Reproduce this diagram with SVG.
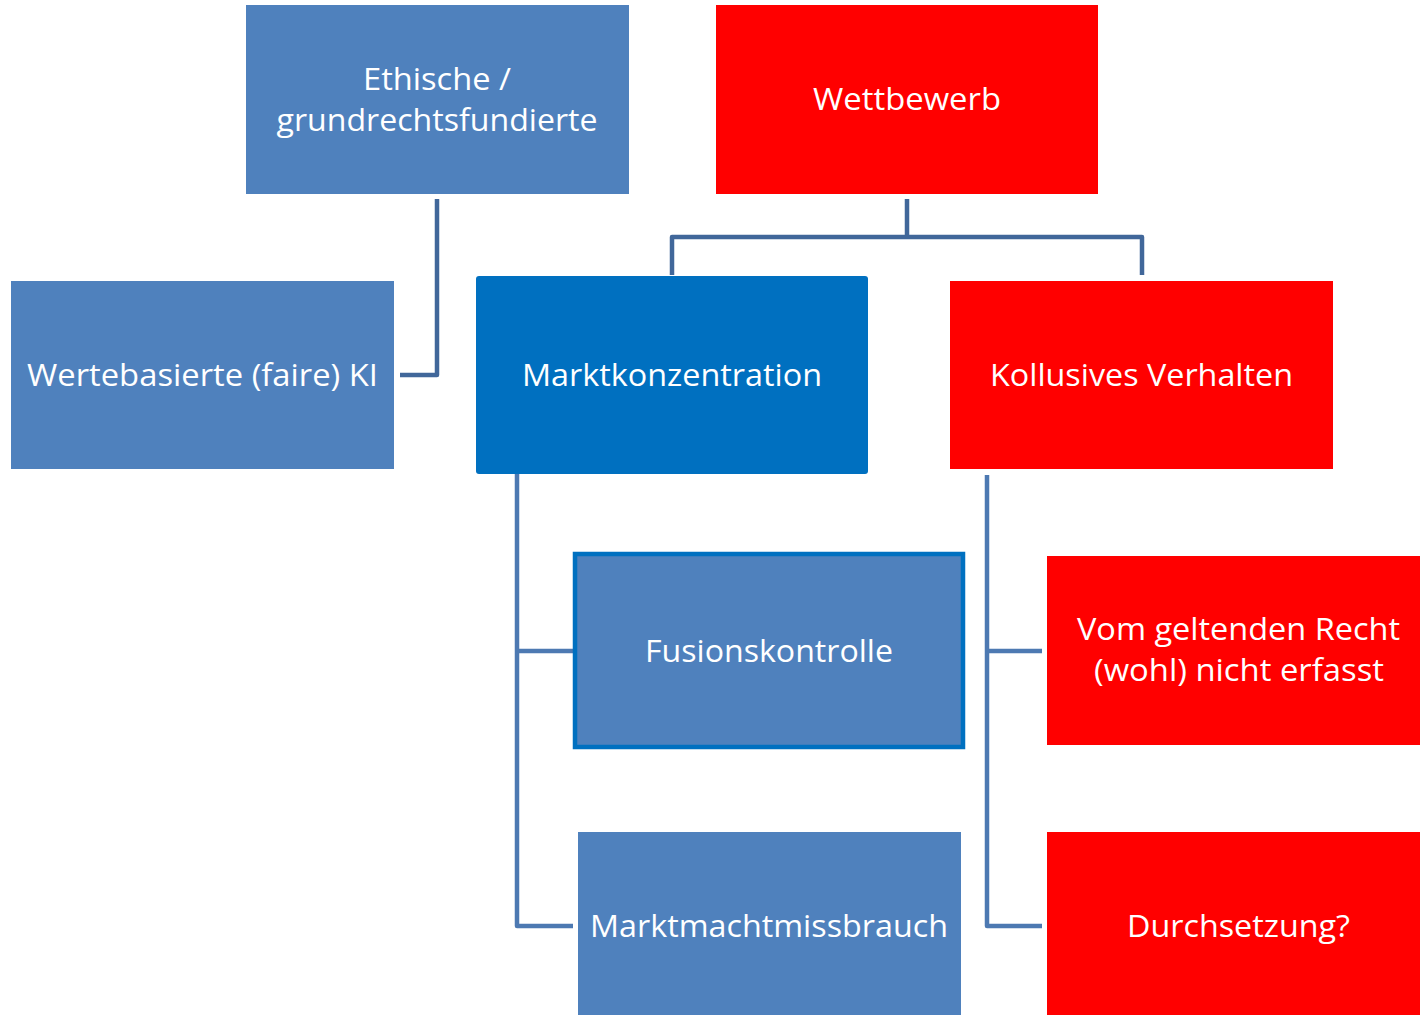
<svg xmlns="http://www.w3.org/2000/svg" width="1420" height="1015" viewBox="0 0 1420 1015">
<style>
.blue{fill:#4F81BD}
.dblue{fill:#0070C0}
.red{fill:#FF0000}
.t{font-family:"Open Sans","Liberation Sans",sans-serif;font-size:31px;fill:#FFFFFF;text-anchor:middle}
.c1{fill:none;stroke:#41679A;stroke-width:4.5;stroke-linejoin:round}
.c2{fill:none;stroke:#4D79B2;stroke-width:4.5;stroke-linejoin:round}
</style>
<rect width="1420" height="1015" fill="#FFFFFF"/>
<g id="connectors">
<path class="c1" d="M437 199 V375 H400"/>
<path class="c1" d="M907 199 V237 M672 275 V237 H1142 V275"/>
<path class="c2" d="M517 474 V926 H573 M517 651 H573"/>
<path class="c2" d="M987 475 V926 H1042 M987 651 H1042"/>
</g>
<g id="n-ethische">
<rect class="blue" x="246" y="5" width="383" height="189"/>
<text class="t" x="437" y="90" textLength="148" lengthAdjust="spacingAndGlyphs">Ethische /</text>
<text class="t" x="437" y="131" textLength="321" lengthAdjust="spacingAndGlyphs">grundrechtsfundierte</text>
</g>
<g id="n-wettbewerb">
<rect class="red" x="716" y="5" width="382" height="189"/>
<text class="t" x="907" y="110" textLength="188" lengthAdjust="spacingAndGlyphs">Wettbewerb</text>
</g>
<g id="n-wertebasierte">
<rect class="blue" x="11" y="281" width="383" height="188"/>
<text class="t" x="202.5" y="386" textLength="351" lengthAdjust="spacingAndGlyphs">Wertebasierte (faire) KI</text>
</g>
<g id="n-marktkonzentration">
<rect class="dblue" x="476" y="276" width="392" height="198" rx="3"/>
<text class="t" x="672" y="386" textLength="300" lengthAdjust="spacingAndGlyphs">Marktkonzentration</text>
</g>
<g id="n-kollusives">
<rect class="red" x="950" y="281" width="383" height="188"/>
<text class="t" x="1141.5" y="386" textLength="303" lengthAdjust="spacingAndGlyphs">Kollusives Verhalten</text>
</g>
<g id="n-fusionskontrolle">
<rect class="blue" x="575" y="554" width="388" height="193" stroke="#0070C0" stroke-width="4.5"/>
<text class="t" x="769" y="662" textLength="248" lengthAdjust="spacingAndGlyphs">Fusionskontrolle</text>
</g>
<g id="n-vom">
<rect class="red" x="1047" y="556" width="380" height="189"/>
<text class="t" x="1238.5" y="640" textLength="323" lengthAdjust="spacingAndGlyphs">Vom geltenden Recht</text>
<text class="t" x="1239" y="681" textLength="290" lengthAdjust="spacingAndGlyphs">(wohl) nicht erfasst</text>
</g>
<g id="n-marktmacht">
<rect class="blue" x="578" y="832" width="383" height="190"/>
<text class="t" x="769" y="937" textLength="358" lengthAdjust="spacingAndGlyphs">Marktmachtmissbrauch</text>
</g>
<g id="n-durchsetzung">
<rect class="red" x="1047" y="832" width="380" height="190"/>
<text class="t" x="1238.5" y="937" textLength="223" lengthAdjust="spacingAndGlyphs">Durchsetzung?</text>
</g>
</svg>
